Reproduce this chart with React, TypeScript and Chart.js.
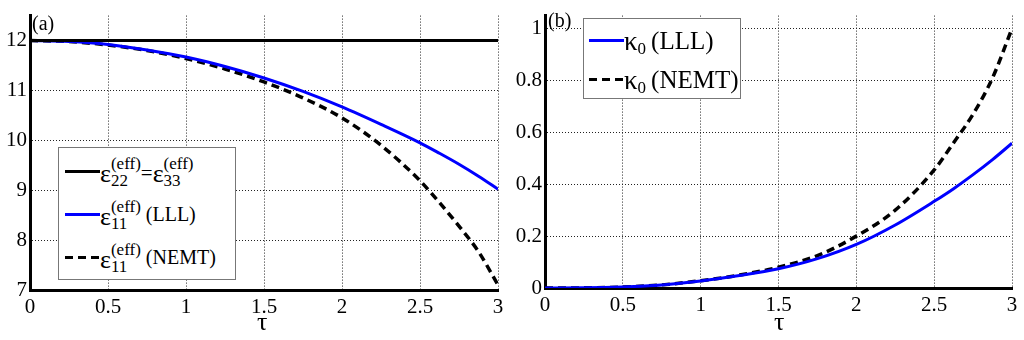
import React, { useEffect, useRef } from "react";
import { Chart, registerables } from "chart.js";

Chart.register(...registerables);

const FONT = "'Liberation Serif', 'Times New Roman', 'DejaVu Serif', serif";

// tau sample points
const tau = [0, 0.25, 0.5, 0.75, 1, 1.25, 1.5, 1.75, 2, 2.25, 2.5, 2.625, 2.75, 2.875, 3];
// panel (a)
const epsConst = [12, 12, 12, 12, 12, 12, 12, 12, 12, 12, 12, 12, 12, 12, 12];
const epsLLL = [12, 11.98, 11.92, 11.81, 11.67, 11.48, 11.25, 10.98, 10.67, 10.32, 9.95, 9.74, 9.52, 9.28, 9.02];
const epsNEMT = [12, 11.98, 11.91, 11.8, 11.64, 11.43, 11.17, 10.85, 10.45, 9.9, 9.19, 8.75, 8.28, 7.77, 7.1];
// panel (b)
const kappaLLL = [0, 0.0005, 0.004, 0.012, 0.027, 0.048, 0.074, 0.113, 0.168, 0.243, 0.334, 0.383, 0.437, 0.495, 0.558];
const kappaNEMT = [0, 0.0005, 0.004, 0.012, 0.028, 0.05, 0.08, 0.125, 0.2, 0.3, 0.455, 0.56, 0.67, 0.81, 1.0];

// ticks
const xTicks = [0, 0.5, 1, 1.5, 2, 2.5, 3];
const yTicksA = [7, 8, 9, 10, 11, 12];
const yTicksB = [0, 0.2, 0.4, 0.6, 0.8, 1];

const pts = (ys: number[]) => tau.map((t, i) => ({ x: t, y: ys[i] }));

function makeConfig(
  datasets: any[],
  yMin: number,
  yMax: number,
  yTicks: number[],
  yWidth: number,
  padRight: number,
  xHeight: number
): any {
  const gridOpts = { color: "#222", lineWidth: 1, drawTicks: false };
  const borderOpts = { display: true, color: "#000", width: 3, dash: [1, 2] };
  const tickFont = { family: FONT, size: 21 };
  return {
    type: "line",
    data: { datasets },
    options: {
      animation: false,
      responsive: false,
      events: [],
      layout: { padding: { top: 13, right: padRight, left: 0, bottom: 0 } },
      plugins: { legend: { display: false }, tooltip: { enabled: false } },
      elements: { point: { radius: 0 } },
      scales: {
        x: {
          type: "linear",
          min: 0,
          max: 3,
          afterBuildTicks: (s: any) => {
            s.ticks = xTicks.map((v) => ({ value: v }));
          },
          afterFit: (s: any) => {
            s.height = xHeight;
          },
          grid: gridOpts,
          border: borderOpts,
          ticks: {
            color: "#000",
            font: tickFont,
            padding: 5,
            maxRotation: 0,
            autoSkip: false,
            callback: (v: any) => String(v),
          },
        },
        y: {
          type: "linear",
          min: yMin,
          max: yMax,
          afterBuildTicks: (s: any) => {
            s.ticks = yTicks.map((v) => ({ value: v }));
          },
          afterFit: (s: any) => {
            s.width = yWidth;
          },
          grid: gridOpts,
          border: borderOpts,
          ticks: {
            color: "#000",
            font: tickFont,
            padding: 3,
            autoSkip: false,
            callback: (v: any) => String(v),
          },
        },
      },
    },
  };
}

function Sample({ color, dashed }: { color: string; dashed?: boolean }) {
  return (
    <div
      style={{
        width: 35,
        height: 3,
        flex: "none",
        background: dashed
          ? `repeating-linear-gradient(to right, ${color} 0 8px, transparent 8px 13px)`
          : color,
      }}
    />
  );
}

function Stack({ sup, sub, size, shift }: { sup: string; sub: string; size: number; shift: number }) {
  return (
    <span
      style={{
        display: "inline-flex",
        flexDirection: "column",
        fontSize: size,
        lineHeight: 1,
        marginTop: shift,
      }}
    >
      <span>{sup}</span>
      <span>{sub}</span>
    </span>
  );
}

function Row({ left, y, children }: { left: number; y: number; children: any }) {
  return (
    <div
      style={{
        position: "absolute",
        left,
        top: y - 18,
        height: 36,
        display: "flex",
        alignItems: "center",
        whiteSpace: "nowrap",
      }}
    >
      {children}
    </div>
  );
}

function Eps() {
  return <span style={{ fontSize: 26, lineHeight: 1, marginTop: 6 }}>ε</span>;
}

export default function App() {
  const refA = useRef<HTMLCanvasElement>(null);
  const refB = useRef<HTMLCanvasElement>(null);

  useEffect(() => {
    const chartA = new Chart(
      refA.current as HTMLCanvasElement,
      makeConfig(
        [
          { data: pts(epsConst), borderColor: "#000", borderWidth: 3, cubicInterpolationMode: "monotone" },
          { data: pts(epsLLL), borderColor: "#0000ff", borderWidth: 3, cubicInterpolationMode: "monotone" },
          {
            data: pts(epsNEMT),
            borderColor: "#000",
            borderWidth: 3.5,
            borderDash: [8, 5],
            cubicInterpolationMode: "monotone",
          },
        ],
        7,
        12.5,
        yTicksA,
        30,
        14,
        50
      )
    );
    const chartB = new Chart(
      refB.current as HTMLCanvasElement,
      makeConfig(
        [
          { data: pts(kappaLLL), borderColor: "#0000ff", borderWidth: 3, cubicInterpolationMode: "monotone" },
          {
            data: pts(kappaNEMT),
            borderColor: "#000",
            borderWidth: 3.5,
            borderDash: [8, 5],
            cubicInterpolationMode: "monotone",
          },
        ],
        0,
        1.05,
        yTicksB,
        33,
        12,
        52
      )
    );
    return () => {
      chartA.destroy();
      chartB.destroy();
    };
  }, []);

  return (
    <div
      style={{
        position: "fixed",
        left: 0,
        top: 0,
        width: 1024,
        height: 340,
        background: "#fff",
        fontFamily: FONT,
        color: "#000",
        overflow: "hidden",
      }}
    >
      <canvas ref={refA} width={512} height={340} style={{ position: "absolute", left: 0, top: 0 }} />
      <canvas ref={refB} width={512} height={340} style={{ position: "absolute", left: 512, top: 0 }} />

      {/* panel labels */}
      <div style={{ position: "absolute", left: 32, top: 13, fontSize: 20, lineHeight: 1 }}>(a)</div>
      <div style={{ position: "absolute", left: 548, top: 10, fontSize: 20, lineHeight: 1 }}>(b)</div>

      {/* x-axis titles */}
      <div style={{ position: "absolute", left: 257, top: 309, fontSize: 26, lineHeight: 1 }}>τ</div>
      <div style={{ position: "absolute", left: 774, top: 309, fontSize: 26, lineHeight: 1 }}>τ</div>

      {/* legend (a) */}
      <div
        style={{
          position: "absolute",
          left: 58,
          top: 147,
          width: 178,
          height: 133,
          boxSizing: "border-box",
          border: "1px solid #777",
          background: "#fff",
        }}
      />
      <Row left={65} y={171}>
        <Sample color="#000" />
        <Eps />
        <Stack sup="(eff)" sub="22" size={17} shift={2} />
        <span style={{ fontSize: 21, lineHeight: 1, marginTop: 4 }}>=</span>
        <Eps />
        <Stack sup="(eff)" sub="33" size={17} shift={2} />
      </Row>
      <Row left={65} y={214}>
        <Sample color="#0000ff" />
        <Eps />
        <Stack sup="(eff)" sub="11" size={17} shift={2} />
        <span style={{ fontSize: 20, lineHeight: 1, marginLeft: 5 }}>(LLL)</span>
      </Row>
      <Row left={65} y={257}>
        <Sample color="#000" dashed />
        <Eps />
        <Stack sup="(eff)" sub="11" size={17} shift={2} />
        <span style={{ fontSize: 20, lineHeight: 1, marginLeft: 5 }}>(NEMT)</span>
      </Row>

      {/* legend (b) */}
      <div
        style={{
          position: "absolute",
          left: 583,
          top: 18,
          width: 158,
          height: 81,
          boxSizing: "border-box",
          border: "1px solid #777",
          background: "#fff",
        }}
      />
      <Row left={589} y={40}>
        <Sample color="#0000ff" />
        <span style={{ fontSize: 27, lineHeight: 1, marginTop: 2 }}>κ</span>
        <span style={{ fontSize: 17, lineHeight: 1, marginTop: 17 }}>0</span>
        <span style={{ fontSize: 25, lineHeight: 1, marginLeft: 5 }}>(LLL)</span>
      </Row>
      <Row left={589} y={79}>
        <Sample color="#000" dashed />
        <span style={{ fontSize: 27, lineHeight: 1, marginTop: 2 }}>κ</span>
        <span style={{ fontSize: 17, lineHeight: 1, marginTop: 17 }}>0</span>
        <span style={{ fontSize: 25, lineHeight: 1, marginLeft: 5 }}>(NEMT)</span>
      </Row>
    </div>
  );
}
